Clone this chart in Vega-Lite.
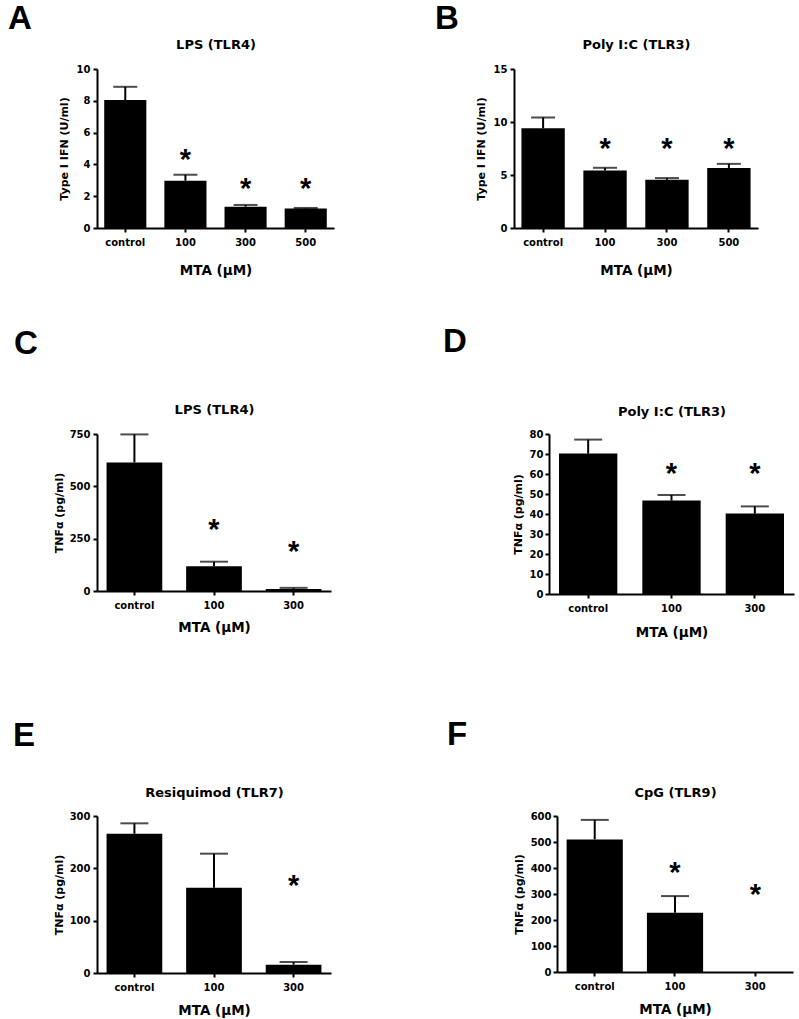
{
  "$schema": "https://vega.github.io/schema/vega-lite/v6.json",
  "background": "white",
  "padding": {"left": 8, "top": 3, "right": 5, "bottom": 5},
  "config": {
    "font": "DejaVu Sans",
    "view": {"stroke": null},
    "axis": {
      "grid": false,
      "domainColor": "black",
      "domainWidth": 2,
      "tickColor": "black",
      "tickWidth": 2,
      "tickSize": 4,
      "labelFont": "DejaVu Sans",
      "labelFontWeight": "bold",
      "labelFontSize": 10,
      "labelColor": "black",
      "labelPadding": 3,
      "labelOverlap": false,
      "labelFlush": false,
      "titleFont": "DejaVu Sans",
      "titleFontWeight": "bold",
      "titleColor": "black"
    },
    "title": {"fontSize": 33, "fontWeight": "bold", "anchor": "start", "frame": "group", "color": "black", "font": "Liberation Sans"}
  },
  "datasets": {
    "A": [
      {"dose": "control", "mean": 8.05, "err": 8.88, "star": null},
      {"dose": "100", "mean": 2.97, "err": 3.35, "star": 4.68},
      {"dose": "300", "mean": 1.34, "err": 1.45, "star": 2.85},
      {"dose": "500", "mean": 1.23, "err": 1.26, "star": 2.85}
    ],
    "B": [
      {"dose": "control", "mean": 9.4, "err": 10.43, "star": null},
      {"dose": "100", "mean": 5.42, "err": 5.68, "star": 8.0},
      {"dose": "300", "mean": 4.55, "err": 4.71, "star": 8.0},
      {"dose": "500", "mean": 5.65, "err": 6.05, "star": 8.0}
    ],
    "C": [
      {"dose": "control", "mean": 614, "err": 748, "star": null},
      {"dose": "100", "mean": 118, "err": 140, "star": 319},
      {"dose": "300", "mean": 10, "err": 15, "star": 215}
    ],
    "D": [
      {"dose": "control", "mean": 70.2, "err": 77.2, "star": null},
      {"dose": "100", "mean": 46.7, "err": 49.5, "star": 63},
      {"dose": "300", "mean": 40.2, "err": 43.8, "star": 63}
    ],
    "E": [
      {"dose": "control", "mean": 266, "err": 286, "star": null},
      {"dose": "100", "mean": 163, "err": 228, "star": null},
      {"dose": "300", "mean": 16, "err": 21, "star": 178}
    ],
    "F": [
      {"dose": "control", "mean": 510, "err": 585, "star": null},
      {"dose": "100", "mean": 228, "err": 292, "star": 403},
      {"dose": "300", "mean": 0, "err": null, "star": 320}
    ]
  },
  "spacing": 49,
  "vconcat": [
    {
      "spacing": 101,
      "hconcat": [
        {
          "width": 237, "height": 159,
          "title": {"text": "A", "dx": -89, "offset": 2},
          "data": {"name": "A"},
          "resolve": {"axis": {"x": "independent"}},
          "layer": [
            {"mark": {"type": "bar", "color": "black"},
             "encoding": {
               "x": {"field": "dose", "type": "nominal", "sort": ["control", "100", "300", "500"], "scale": {"paddingInner": 0.3, "paddingOuter": 0.12}, "axis": {"title": "MTA (μM)", "labelAngle": 0, "titleFontSize": 13.5, "titlePadding": 16, "labelPadding": 5}},
               "y": {"field": "mean", "type": "quantitative", "scale": {"domain": [0, 10], "nice": false}, "axis": {"values": [0, 2, 4, 6, 8, 10], "title": "Type I IFN (U/ml)", "titleFontSize": 11, "titlePadding": 7}}
             }},
            {"mark": {"type": "rule", "strokeWidth": 2, "color": "black"},
             "encoding": {
               "x": {"field": "dose", "type": "nominal", "sort": ["control", "100", "300", "500"], "axis": null},
               "y": {"field": "mean", "type": "quantitative", "scale": {"domain": [0, 10], "nice": false}, "axis": {"values": [0, 2, 4, 6, 8, 10], "title": "Type I IFN (U/ml)", "titleFontSize": 11, "titlePadding": 7}},
               "y2": {"field": "err"}
             }},
            {"mark": {"type": "tick", "color": "black", "thickness": 2, "size": 24},
             "encoding": {
               "x": {"field": "dose", "type": "nominal", "sort": ["control", "100", "300", "500"], "axis": null},
               "y": {"field": "err", "type": "quantitative", "scale": {"domain": [0, 10], "nice": false}, "axis": {"values": [0, 2, 4, 6, 8, 10], "title": "Type I IFN (U/ml)", "titleFontSize": 11, "titlePadding": 7}}
             }},
            {"transform": [{"filter": "datum.star != null"}],
             "mark": {"type": "text", "text": "*", "font": "Liberation Sans", "fontSize": 29, "fontWeight": "bold", "baseline": "middle", "dy": 6, "color": "black"},
             "encoding": {
               "x": {"field": "dose", "type": "nominal", "sort": ["control", "100", "300", "500"], "axis": {"orient": "top", "title": "LPS (TLR4)", "labels": false, "ticks": false, "domain": false, "titleFontSize": 13, "titlePadding": 18}},
               "y": {"field": "star", "type": "quantitative", "scale": {"domain": [0, 10], "nice": false}, "axis": {"values": [0, 2, 4, 6, 8, 10], "title": "Type I IFN (U/ml)", "titleFontSize": 11, "titlePadding": 7}}
             }}
          ]
        },
        {
          "width": 244, "height": 159,
          "title": {"text": "B", "dx": -79, "offset": 2},
          "data": {"name": "B"},
          "resolve": {"axis": {"x": "independent"}},
          "layer": [
            {"mark": {"type": "bar", "color": "black"},
             "encoding": {
               "x": {"field": "dose", "type": "nominal", "sort": ["control", "100", "300", "500"], "scale": {"paddingInner": 0.3, "paddingOuter": 0.12}, "axis": {"title": "MTA (μM)", "labelAngle": 0, "titleFontSize": 13.5, "titlePadding": 16, "labelPadding": 5}},
               "y": {"field": "mean", "type": "quantitative", "scale": {"domain": [0, 15], "nice": false}, "axis": {"values": [0, 5, 10, 15], "title": "Type I IFN (U/ml)", "titleFontSize": 11, "titlePadding": 7}}
             }},
            {"mark": {"type": "rule", "strokeWidth": 2, "color": "black"},
             "encoding": {
               "x": {"field": "dose", "type": "nominal", "sort": ["control", "100", "300", "500"], "axis": null},
               "y": {"field": "mean", "type": "quantitative", "scale": {"domain": [0, 15], "nice": false}, "axis": {"values": [0, 5, 10, 15], "title": "Type I IFN (U/ml)", "titleFontSize": 11, "titlePadding": 7}},
               "y2": {"field": "err"}
             }},
            {"mark": {"type": "tick", "color": "black", "thickness": 2, "size": 24},
             "encoding": {
               "x": {"field": "dose", "type": "nominal", "sort": ["control", "100", "300", "500"], "axis": null},
               "y": {"field": "err", "type": "quantitative", "scale": {"domain": [0, 15], "nice": false}, "axis": {"values": [0, 5, 10, 15], "title": "Type I IFN (U/ml)", "titleFontSize": 11, "titlePadding": 7}}
             }},
            {"transform": [{"filter": "datum.star != null"}],
             "mark": {"type": "text", "text": "*", "font": "Liberation Sans", "fontSize": 29, "fontWeight": "bold", "baseline": "middle", "dy": 6, "color": "black"},
             "encoding": {
               "x": {"field": "dose", "type": "nominal", "sort": ["control", "100", "300", "500"], "axis": {"orient": "top", "title": "Poly I:C (TLR3)", "labels": false, "ticks": false, "domain": false, "titleFontSize": 13, "titlePadding": 18}},
               "y": {"field": "star", "type": "quantitative", "scale": {"domain": [0, 15], "nice": false}, "axis": {"values": [0, 5, 10, 15], "title": "Type I IFN (U/ml)", "titleFontSize": 11, "titlePadding": 7}}
             }}
          ]
        }
      ]
    },
    {
      "spacing": 80,
      "vconcat": [
        {
          "spacing": 112,
          "hconcat": [
            {
              "width": 234, "height": 157,
              "title": {"text": "C", "dx": -83, "offset": 42},
              "data": {"name": "C"},
              "resolve": {"axis": {"x": "independent"}},
              "layer": [
                {"mark": {"type": "bar", "color": "black"},
                 "encoding": {
                   "x": {"field": "dose", "type": "nominal", "sort": ["control", "100", "300"], "scale": {"paddingInner": 0.3, "paddingOuter": 0.12}, "axis": {"title": "MTA (μM)", "labelAngle": 0, "titleFontSize": 13.5, "titlePadding": 10, "labelPadding": 5}},
                   "y": {"field": "mean", "type": "quantitative", "scale": {"domain": [0, 750], "nice": false}, "axis": {"values": [0, 250, 500, 750], "title": "TNFα (pg/ml)", "titleFontSize": 11, "titlePadding": 5}}
                 }},
                {"mark": {"type": "rule", "strokeWidth": 2, "color": "black"},
                 "encoding": {
                   "x": {"field": "dose", "type": "nominal", "sort": ["control", "100", "300"], "axis": null},
                   "y": {"field": "mean", "type": "quantitative", "scale": {"domain": [0, 750], "nice": false}, "axis": {"values": [0, 250, 500, 750], "title": "TNFα (pg/ml)", "titleFontSize": 11, "titlePadding": 5}},
                   "y2": {"field": "err"}
                 }},
                {"mark": {"type": "tick", "color": "black", "thickness": 2, "size": 28},
                 "encoding": {
                   "x": {"field": "dose", "type": "nominal", "sort": ["control", "100", "300"], "axis": null},
                   "y": {"field": "err", "type": "quantitative", "scale": {"domain": [0, 750], "nice": false}, "axis": {"values": [0, 250, 500, 750], "title": "TNFα (pg/ml)", "titleFontSize": 11, "titlePadding": 5}}
                 }},
                {"transform": [{"filter": "datum.star != null"}],
                 "mark": {"type": "text", "text": "*", "font": "Liberation Sans", "fontSize": 29, "fontWeight": "bold", "baseline": "middle", "dy": 6, "color": "black"},
                 "encoding": {
                   "x": {"field": "dose", "type": "nominal", "sort": ["control", "100", "300"], "axis": {"orient": "top", "title": "LPS (TLR4)", "labels": false, "ticks": false, "domain": false, "titleFontSize": 13, "titlePadding": 18}},
                   "y": {"field": "star", "type": "quantitative", "scale": {"domain": [0, 750], "nice": false}, "axis": {"values": [0, 250, 500, 750], "title": "TNFα (pg/ml)", "titleFontSize": 11, "titlePadding": 5}}
                 }}
              ]
            },
            {
              "width": 245, "height": 160,
              "title": {"text": "D", "dx": -106, "offset": 46},
              "data": {"name": "D"},
              "resolve": {"axis": {"x": "independent"}},
              "layer": [
                {"mark": {"type": "bar", "color": "black"},
                 "encoding": {
                   "x": {"field": "dose", "type": "nominal", "sort": ["control", "100", "300"], "scale": {"paddingInner": 0.3, "paddingOuter": 0.12}, "axis": {"title": "MTA (μM)", "labelAngle": 0, "titleFontSize": 13.5, "titlePadding": 12, "labelPadding": 5}},
                   "y": {"field": "mean", "type": "quantitative", "scale": {"domain": [0, 80], "nice": false}, "axis": {"values": [0, 10, 20, 30, 40, 50, 60, 70, 80], "title": "TNFα (pg/ml)", "titleFontSize": 11, "titlePadding": 6, "labelPadding": 2}}
                 }},
                {"mark": {"type": "rule", "strokeWidth": 2, "color": "black"},
                 "encoding": {
                   "x": {"field": "dose", "type": "nominal", "sort": ["control", "100", "300"], "axis": null},
                   "y": {"field": "mean", "type": "quantitative", "scale": {"domain": [0, 80], "nice": false}, "axis": {"values": [0, 10, 20, 30, 40, 50, 60, 70, 80], "title": "TNFα (pg/ml)", "titleFontSize": 11, "titlePadding": 6, "labelPadding": 2}},
                   "y2": {"field": "err"}
                 }},
                {"mark": {"type": "tick", "color": "black", "thickness": 2, "size": 28},
                 "encoding": {
                   "x": {"field": "dose", "type": "nominal", "sort": ["control", "100", "300"], "axis": null},
                   "y": {"field": "err", "type": "quantitative", "scale": {"domain": [0, 80], "nice": false}, "axis": {"values": [0, 10, 20, 30, 40, 50, 60, 70, 80], "title": "TNFα (pg/ml)", "titleFontSize": 11, "titlePadding": 6, "labelPadding": 2}}
                 }},
                {"transform": [{"filter": "datum.star != null"}],
                 "mark": {"type": "text", "text": "*", "font": "Liberation Sans", "fontSize": 29, "fontWeight": "bold", "baseline": "middle", "dy": 6, "color": "black"},
                 "encoding": {
                   "x": {"field": "dose", "type": "nominal", "sort": ["control", "100", "300"], "axis": {"orient": "top", "title": "Poly I:C (TLR3)", "labels": false, "ticks": false, "domain": false, "titleFontSize": 13, "titlePadding": 16}},
                   "y": {"field": "star", "type": "quantitative", "scale": {"domain": [0, 80], "nice": false}, "axis": {"values": [0, 10, 20, 30, 40, 50, 60, 70, 80], "title": "TNFα (pg/ml)", "titleFontSize": 11, "titlePadding": 6, "labelPadding": 2}}
                 }}
              ]
            }
          ]
        },
        {
          "spacing": 116,
          "hconcat": [
            {
              "width": 234, "height": 157,
              "title": {"text": "E", "dx": -84, "offset": 33},
              "data": {"name": "E"},
              "resolve": {"axis": {"x": "independent"}},
              "layer": [
                {"mark": {"type": "bar", "color": "black"},
                 "encoding": {
                   "x": {"field": "dose", "type": "nominal", "sort": ["control", "100", "300"], "scale": {"paddingInner": 0.3, "paddingOuter": 0.12}, "axis": {"title": "MTA (μM)", "labelAngle": 0, "titleFontSize": 13.5, "titlePadding": 11, "labelPadding": 5}},
                   "y": {"field": "mean", "type": "quantitative", "scale": {"domain": [0, 300], "nice": false}, "axis": {"values": [0, 100, 200, 300], "title": "TNFα (pg/ml)", "titleFontSize": 11, "titlePadding": 5}}
                 }},
                {"mark": {"type": "rule", "strokeWidth": 2, "color": "black"},
                 "encoding": {
                   "x": {"field": "dose", "type": "nominal", "sort": ["control", "100", "300"], "axis": null},
                   "y": {"field": "mean", "type": "quantitative", "scale": {"domain": [0, 300], "nice": false}, "axis": {"values": [0, 100, 200, 300], "title": "TNFα (pg/ml)", "titleFontSize": 11, "titlePadding": 5}},
                   "y2": {"field": "err"}
                 }},
                {"mark": {"type": "tick", "color": "black", "thickness": 2, "size": 28},
                 "encoding": {
                   "x": {"field": "dose", "type": "nominal", "sort": ["control", "100", "300"], "axis": null},
                   "y": {"field": "err", "type": "quantitative", "scale": {"domain": [0, 300], "nice": false}, "axis": {"values": [0, 100, 200, 300], "title": "TNFα (pg/ml)", "titleFontSize": 11, "titlePadding": 5}}
                 }},
                {"transform": [{"filter": "datum.star != null"}],
                 "mark": {"type": "text", "text": "*", "font": "Liberation Sans", "fontSize": 29, "fontWeight": "bold", "baseline": "middle", "dy": 6, "color": "black"},
                 "encoding": {
                   "x": {"field": "dose", "type": "nominal", "sort": ["control", "100", "300"], "axis": {"orient": "top", "title": "Resiquimod (TLR7)", "labels": false, "ticks": false, "domain": false, "titleFontSize": 13, "titlePadding": 17}},
                   "y": {"field": "star", "type": "quantitative", "scale": {"domain": [0, 300], "nice": false}, "axis": {"values": [0, 100, 200, 300], "title": "TNFα (pg/ml)", "titleFontSize": 11, "titlePadding": 5}}
                 }}
              ]
            },
            {
              "width": 236, "height": 156,
              "title": {"text": "F", "dx": -110, "offset": 34},
              "data": {"name": "F"},
              "resolve": {"axis": {"x": "independent"}},
              "layer": [
                {"mark": {"type": "bar", "color": "black"},
                 "encoding": {
                   "x": {"field": "dose", "type": "nominal", "sort": ["control", "100", "300"], "scale": {"paddingInner": 0.3, "paddingOuter": 0.12}, "axis": {"title": "MTA (μM)", "labelAngle": 0, "titleFontSize": 13.5, "titlePadding": 11, "labelPadding": 5}},
                   "y": {"field": "mean", "type": "quantitative", "scale": {"domain": [0, 600], "nice": false}, "axis": {"values": [0, 100, 200, 300, 400, 500, 600], "title": "TNFα (pg/ml)", "titleFontSize": 11, "titlePadding": 6, "labelPadding": 2}}
                 }},
                {"mark": {"type": "rule", "strokeWidth": 2, "color": "black"},
                 "encoding": {
                   "x": {"field": "dose", "type": "nominal", "sort": ["control", "100", "300"], "axis": null},
                   "y": {"field": "mean", "type": "quantitative", "scale": {"domain": [0, 600], "nice": false}, "axis": {"values": [0, 100, 200, 300, 400, 500, 600], "title": "TNFα (pg/ml)", "titleFontSize": 11, "titlePadding": 6, "labelPadding": 2}},
                   "y2": {"field": "err"}
                 }},
                {"mark": {"type": "tick", "color": "black", "thickness": 2, "size": 28},
                 "encoding": {
                   "x": {"field": "dose", "type": "nominal", "sort": ["control", "100", "300"], "axis": null},
                   "y": {"field": "err", "type": "quantitative", "scale": {"domain": [0, 600], "nice": false}, "axis": {"values": [0, 100, 200, 300, 400, 500, 600], "title": "TNFα (pg/ml)", "titleFontSize": 11, "titlePadding": 6, "labelPadding": 2}}
                 }},
                {"transform": [{"filter": "datum.star != null"}],
                 "mark": {"type": "text", "text": "*", "font": "Liberation Sans", "fontSize": 29, "fontWeight": "bold", "baseline": "middle", "dy": 6, "color": "black"},
                 "encoding": {
                   "x": {"field": "dose", "type": "nominal", "sort": ["control", "100", "300"], "axis": {"orient": "top", "title": "CpG (TLR9)", "labels": false, "ticks": false, "domain": false, "titleFontSize": 13, "titlePadding": 17}},
                   "y": {"field": "star", "type": "quantitative", "scale": {"domain": [0, 600], "nice": false}, "axis": {"values": [0, 100, 200, 300, 400, 500, 600], "title": "TNFα (pg/ml)", "titleFontSize": 11, "titlePadding": 6, "labelPadding": 2}}
                 }}
              ]
            }
          ]
        }
      ]
    }
  ]
}
